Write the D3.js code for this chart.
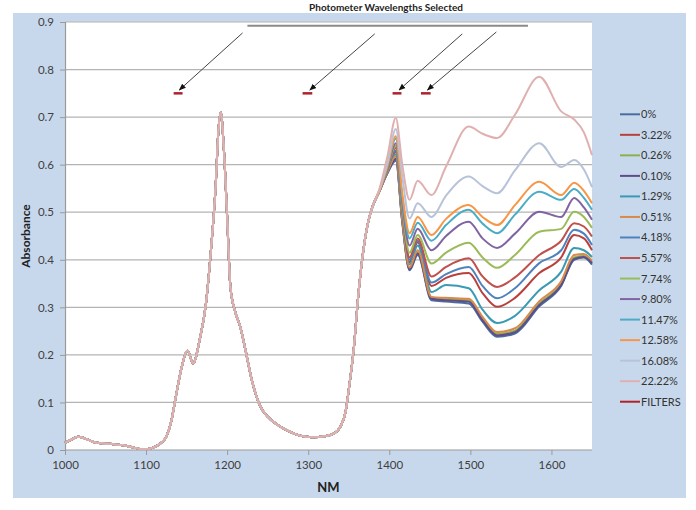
<!DOCTYPE html>
<html><head><meta charset="utf-8">
<script src="https://cdn.jsdelivr.net/npm/d3@7"></script>
<style>
body{margin:0;background:#fff;}
svg{display:block;font-family:Lato,"Liberation Sans",sans-serif;}
</style>
</head><body>
<svg id="chart" width="696" height="510"></svg>
<script>
// ---------- DATA ----------
const seriesNames = ["0%","3.22%","0.26%","0.10%","1.29%","0.51%","4.18%","5.57%","7.74%","9.80%","11.47%","12.58%","16.08%","22.22%"];
const seriesColors = ["#4a6d9e","#b8403d","#8db04e","#5e4d8a","#3a9ab3","#d88a4c","#4f81bd","#c0504d","#9bbb59","#8064a2","#4bacc6","#f79646","#b7c3d8","#e0b0b0"];
const filterName = "FILTERS";
const filterColor = "#b0212b";
const xTicks = [1000,1100,1200,1300,1400,1500,1600];
const yTicks = [0,0.1,0.2,0.3,0.4,0.5,0.6,0.7,0.8,0.9];

// shared spectrum 1000-1380 nm (all samples overlap)
const baseNm  = [1000,1008,1016,1025,1035,1045,1055,1065,1075,1085,1095,1102,1110,1118,1125,1131,1137,1144,1151,1158,1166,1174,1180,1186,1189,1192,1196,1200,1204,1210,1216,1222,1230,1240,1250,1262,1275,1290,1305,1320,1332,1340,1346,1351,1356,1362,1368,1374,1380];
const baseAbs = [0.015,0.022,0.028,0.024,0.017,0.014,0.013,0.011,0.009,0.005,0.002,0.002,0.006,0.014,0.028,0.06,0.115,0.175,0.209,0.182,0.231,0.31,0.42,0.561,0.666,0.711,0.631,0.49,0.343,0.29,0.26,0.215,0.15,0.095,0.07,0.053,0.04,0.03,0.027,0.029,0.035,0.05,0.08,0.14,0.21,0.33,0.42,0.48,0.515];

// per-sample spectrum 1388-1650 nm
const tailNm = [1388,1398,1408,1416,1425,1435,1452,1470,1498,1515,1533,1555,1585,1612,1628,1640,1650];
const abs_0    = [0.545,0.583,0.608,0.478,0.378,0.410,0.315,0.312,0.308,0.270,0.238,0.245,0.302,0.345,0.400,0.405,0.390];
const abs_322  = [0.545,0.590,0.627,0.495,0.395,0.437,0.345,0.362,0.372,0.330,0.301,0.320,0.372,0.405,0.452,0.445,0.420];
const abs_026  = [0.545,0.585,0.615,0.482,0.382,0.416,0.320,0.317,0.315,0.276,0.244,0.251,0.308,0.350,0.405,0.408,0.395];
const abs_010  = [0.545,0.584,0.612,0.480,0.380,0.413,0.318,0.315,0.312,0.273,0.241,0.248,0.305,0.347,0.402,0.406,0.393];
const abs_129  = [0.545,0.588,0.622,0.490,0.390,0.430,0.332,0.347,0.340,0.295,0.267,0.282,0.336,0.375,0.425,0.420,0.406];
const abs_051  = [0.545,0.586,0.618,0.485,0.384,0.420,0.322,0.320,0.318,0.280,0.248,0.256,0.313,0.355,0.410,0.412,0.398];
const abs_418  = [0.545,0.590,0.630,0.500,0.400,0.440,0.352,0.370,0.385,0.345,0.319,0.340,0.393,0.420,0.463,0.455,0.431];
const abs_557  = [0.545,0.592,0.635,0.505,0.405,0.445,0.365,0.385,0.403,0.365,0.343,0.363,0.410,0.440,0.477,0.470,0.449];
const abs_774  = [0.545,0.594,0.640,0.510,0.415,0.452,0.392,0.415,0.436,0.405,0.383,0.410,0.459,0.465,0.501,0.490,0.467];
const abs_980  = [0.545,0.596,0.645,0.520,0.430,0.465,0.420,0.450,0.480,0.445,0.425,0.455,0.501,0.490,0.530,0.510,0.484];
const abs_1147 = [0.545,0.598,0.655,0.530,0.445,0.478,0.440,0.473,0.505,0.476,0.456,0.495,0.543,0.526,0.549,0.530,0.505];
const abs_1258 = [0.545,0.600,0.660,0.540,0.456,0.490,0.452,0.486,0.515,0.490,0.473,0.515,0.564,0.536,0.562,0.545,0.519];
const abs_1608 = [0.548,0.605,0.675,0.575,0.487,0.519,0.490,0.535,0.575,0.555,0.540,0.588,0.645,0.595,0.610,0.590,0.553];
const abs_2222 = [0.550,0.620,0.698,0.600,0.526,0.566,0.536,0.596,0.680,0.665,0.656,0.705,0.785,0.712,0.695,0.668,0.620];
const sampleTails = [abs_0,abs_322,abs_026,abs_010,abs_129,abs_051,abs_418,abs_557,abs_774,abs_980,abs_1147,abs_1258,abs_1608,abs_2222];

// photometer filter wavelengths (drawn at 0.75)
const filterStart = [1134,1293,1404,1439];
const filterEnd   = [1145,1305,1415,1451];
const filterLevel = 0.75;

// annotation: bar and arrows
const titleText = "Photometer Wavelengths Selected";
const barNm = [1225,1571];
const barLevel = 0.892;
const arrowFromNm  = [1219,1382,1490,1532];
const arrowFromAbs = [0.877,0.875,0.875,0.879];
const arrowToNm    = [1141,1302,1412,1447];
const arrowToAbs   = [0.757,0.757,0.757,0.757];

// ---------- LAYOUT ----------
const svg = d3.select("#chart");
const plot = {left:65, right:592, top:22, bottom:450};
const x = d3.scaleLinear().domain([1000,1650]).range([plot.left, plot.right]);
const y = d3.scaleLinear().domain([0,0.9]).range([plot.bottom, plot.top]);

// panel background
svg.append("rect").attr("x",13).attr("y",13).attr("width",673).attr("height",485).attr("fill","#c8d8ec");
svg.append("rect").attr("x",plot.left).attr("y",plot.top).attr("width",plot.right-plot.left).attr("height",plot.bottom-plot.top).attr("fill","#ffffff");

// gridlines
svg.append("g").selectAll("line").data(yTicks.filter(d=>d>0)).join("line")
  .attr("x1",plot.left).attr("x2",plot.right)
  .attr("y1",d=>y(d)).attr("y2",d=>y(d))
  .attr("stroke","#b4b4b4").attr("stroke-width",1.2);

// axes
const yAxis = d3.axisLeft(y).tickValues(yTicks).tickSize(5).tickPadding(6).tickFormat(d=>d===0?"0":d3.format(".1f")(d));
const gy = svg.append("g").attr("transform",`translate(${plot.left},0)`).call(yAxis);
const xAxis = d3.axisBottom(x).tickValues(xTicks).tickSize(5).tickPadding(6).tickFormat(d3.format("d"));
const gx = svg.append("g").attr("transform",`translate(0,${plot.bottom})`).call(xAxis);
[gx,gy].forEach(g=>{
  g.select(".domain").attr("stroke","#9a9a9a").attr("stroke-width",1.2);
  g.selectAll(".tick line").attr("stroke","#9a9a9a");
  g.selectAll("text").attr("fill","#404040").attr("font-size",11.5).style("font-family","Lato, 'Liberation Sans', sans-serif");
});
// extend x axis line to plot right
gx.select(".domain").attr("d",`M${plot.left},0H${plot.right}`);

// axis titles
svg.append("text").attr("x",(plot.left+plot.right)/2).attr("y",492).attr("text-anchor","middle")
  .attr("font-weight","bold").attr("font-size",13).attr("fill","#222").text("NM");
svg.append("text").attr("transform",`translate(30,${(plot.top+plot.bottom)/2}) rotate(-90)`).attr("text-anchor","middle")
  .attr("font-weight","bold").attr("font-size",12).attr("fill","#222").text("Absorbance");

// title
svg.append("text").attr("x",386).attr("y",11).attr("text-anchor","middle")
  .attr("font-weight","bold").attr("font-size",10).attr("fill","#222").text(titleText);

// spectra
const line = d3.line().x(d=>x(d[0])).y(d=>y(d[1])).curve(d3.curveMonotoneX);
const gS = svg.append("g");
sampleTails.forEach((tail,i)=>{
  const pts = baseNm.map((n,k)=>[n,baseAbs[k]]).concat(tailNm.map((n,k)=>[n,tail[k]]));
  gS.append("path").attr("d",line(pts)).attr("fill","none")
    .attr("stroke",seriesColors[i]).attr("stroke-width",2).attr("stroke-linejoin","round");
});

// filters
svg.append("g").selectAll("line").data(filterStart).join("line")
  .attr("x1",d=>x(d)).attr("x2",(d,i)=>x(filterEnd[i]))
  .attr("y1",y(filterLevel)).attr("y2",y(filterLevel))
  .attr("stroke",filterColor).attr("stroke-width",2.5);

// annotation bar & arrows
svg.append("line").attr("x1",x(barNm[0])).attr("x2",x(barNm[1])).attr("y1",y(barLevel)).attr("y2",y(barLevel))
  .attr("stroke","#8a8a8a").attr("stroke-width",2);
const defs = svg.append("defs");
defs.append("marker").attr("id","ah").attr("viewBox","0 0 10 10").attr("refX",9).attr("refY",5)
  .attr("markerWidth",7).attr("markerHeight",7).attr("orient","auto")
  .append("path").attr("d","M0,1 L10,5 L0,9 z").attr("fill","#111");
svg.append("g").selectAll("line").data(arrowFromNm).join("line")
  .attr("x1",d=>x(d)).attr("y1",(d,i)=>y(arrowFromAbs[i]))
  .attr("x2",(d,i)=>x(arrowToNm[i])).attr("y2",(d,i)=>y(arrowToAbs[i]))
  .attr("stroke","#444").attr("stroke-width",1).attr("marker-end","url(#ah)");

// legend
const legNames = seriesNames.concat([filterName]);
const legColors = seriesColors.concat([filterColor]);
const leg = svg.append("g");
legNames.forEach((n,i)=>{
  const yy = 114.3 + i*20.53;
  leg.append("line").attr("x1",620).attr("x2",640).attr("y1",yy).attr("y2",yy)
    .attr("stroke",legColors[i]).attr("stroke-width",2);
  leg.append("text").attr("x",641).attr("y",yy+4).attr("font-size",11).attr("fill","#333").text(n);
});
</script>
</body></html>
